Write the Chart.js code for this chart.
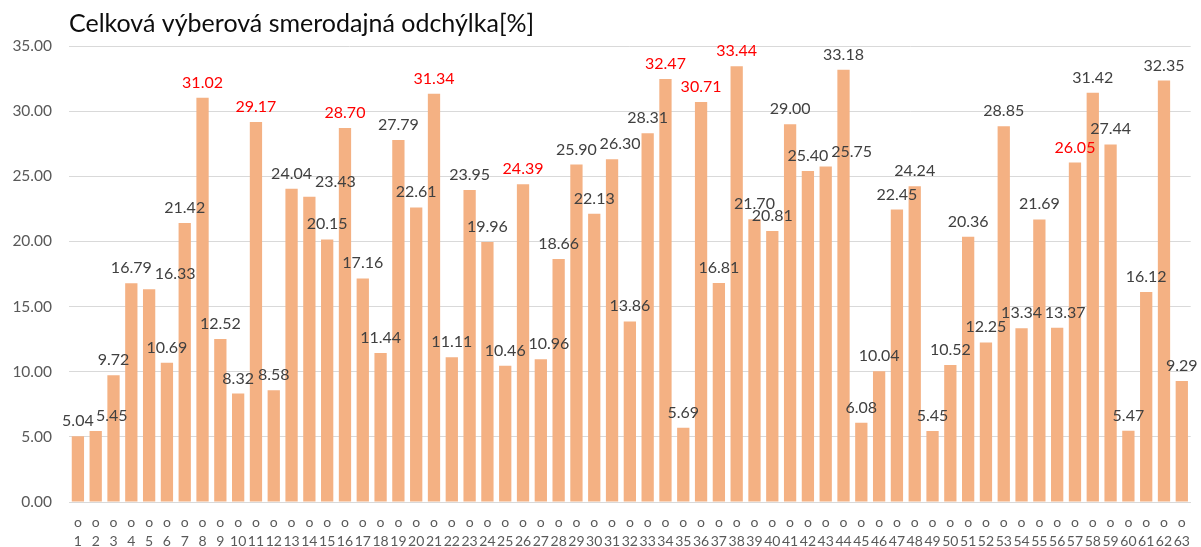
<!DOCTYPE html>
<html>
<head>
<meta charset="utf-8">
<title>Celková výberová smerodajná odchýlka</title>
<script src="https://cdn.jsdelivr.net/npm/chart.js@4.4.1/dist/chart.umd.min.js"></script>
<style>
  html, body { margin: 0; padding: 0; background: #fff; }
  #wrap { width: 1201px; height: 547px; }
</style>
</head>
<body>
<div id="wrap"><canvas id="chart"></canvas></div>
<script>
// meranie 1..63
const categories = ['1', '2', '3', '4', '5', '6', '7', '8', '9', '10', '11', '12', '13', '14', '15', '16',
  '17', '18', '19', '20', '21', '22', '23', '24', '25', '26', '27', '28', '29', '30', '31', '32',
  '33', '34', '35', '36', '37', '38', '39', '40', '41', '42', '43', '44', '45', '46', '47', '48',
  '49', '50', '51', '52', '53', '54', '55', '56', '57', '58', '59', '60', '61', '62', '63'];

// výberová smerodajná odchýlka [%]
const odchylka = [5.04, 5.45, 9.72, 16.79, 16.33, 10.69, 21.42, 31.02, 12.52, 8.32, 29.17, 8.58,
  24.04, 23.43, 20.15, 28.70, 17.16, 11.44, 27.79, 22.61, 31.34, 11.11, 23.95, 19.96, 10.46,
  24.39, 10.96, 18.66, 25.90, 22.13, 26.30, 13.86, 28.31, 32.47, 5.69, 30.71, 16.81, 33.44,
  21.70, 20.81, 29.00, 25.40, 25.75, 33.18, 6.08, 10.04, 22.45, 24.24, 5.45, 10.52, 20.36,
  12.25, 28.85, 13.34, 21.69, 13.37, 26.05, 31.42, 27.44, 5.47, 16.12, 32.35, 9.29];

// merania s hodnotou zvýraznenou červenou
const flagged = ['8', '11', '16', '21', '26', '34', '36', '38', '57'];

const yTicks = [0, 5, 10, 15, 20, 25, 30, 35];

const FONT = 'Lato, "Open Sans", sans-serif';

// kandidátne posuny popisku: najprv do strany, vyššie až keď to nejde
const offsets = [];
for (let dy = 0; dy >= -60; dy -= 3) {
  for (let dx = -36; dx <= 36; dx += 2) {
    offsets.push({ dx, dy, cost: Math.abs(dx) + 3 * Math.abs(dy) + (dx < 0 ? 1 : 0) });
  }
}
offsets.sort((a, b) => a.cost - b.cost);

// popisky hodnôt nad stĺpcami, bez vzájomného prekrytia
const barLabels = {
  id: 'barLabels',
  afterDatasetsDraw(chart) {
    const ctx = chart.ctx;
    const meta = chart.getDatasetMeta(0);
    ctx.save();
    ctx.font = '16px ' + FONT;
    ctx.textAlign = 'center';
    ctx.textBaseline = 'alphabetic';
    const placed = [];
    const h = 11;
    meta.data.forEach((bar, i) => {
      const text = odchylka[i].toFixed(2);
      const w = ctx.measureText(text).width;
      const baseY = bar.y - 10;
      let pos = null;
      for (const o of offsets) {
        const box = {
          l: bar.x + o.dx - w / 2 - 1, r: bar.x + o.dx + w / 2 + 1,
          t: baseY + o.dy - h, b: baseY + o.dy
        };
        const hit = placed.some(p => p.l < box.r && box.l < p.r && p.t < box.b && box.t < p.b);
        if (!hit) { pos = { dx: o.dx, dy: o.dy, box }; break; }
      }
      if (!pos) pos = { dx: 0, dy: 0, box: { l: 0, r: 0, t: 0, b: 0 } };
      placed.push(pos.box);
      const x = bar.x + pos.dx;
      if (pos.dy < -3) {
        ctx.strokeStyle = '#a6a6a6';
        ctx.lineWidth = 1;
        ctx.beginPath();
        ctx.moveTo(x, pos.box.b + 3);
        ctx.lineTo(bar.x, bar.y - 2);
        ctx.stroke();
      }
      ctx.fillStyle = flagged.includes(categories[i]) ? '#ff0000' : '#404040';
      ctx.fillText(text, x, baseY + pos.dy);
    });
    ctx.restore();
  }
};

new Chart(document.getElementById('chart'), {
  type: 'bar',
  data: {
    labels: categories.map(c => ['o', c]),
    datasets: [{
      data: odchylka,
      backgroundColor: '#f4b183',
      barPercentage: 0.69,
      categoryPercentage: 1.0
    }]
  },
  options: {
    responsive: true,
    maintainAspectRatio: false,
    animation: false,
    devicePixelRatio: 1,
    layout: { padding: { left: 0, right: 10, top: 0, bottom: 0 } },
    plugins: {
      legend: { display: false },
      tooltip: { enabled: false },
      title: {
        display: true,
        text: 'Celková výberová smerodajná odchýlka[%]',
        align: 'start',
        fullSize: false,
        color: '#0d0d0d',
        font: { family: FONT, size: 25, weight: 'normal' },
        padding: { top: 9, bottom: 7 }
      }
    },
    scales: {
      x: {
        grid: { display: false, drawTicks: false },
        border: { display: true, color: '#d9d9d9' },
        ticks: {
          color: '#595959',
          font: { family: FONT, size: 14, lineHeight: 1.35 },
          padding: 11,
          maxRotation: 0,
          autoSkip: false
        },
        afterFit(scale) { scale.height = 45; }
      },
      y: {
        min: 0,
        max: 35,
        grid: { color: '#d9d9d9', drawTicks: false },
        border: { display: false },
        ticks: {
          color: '#595959',
          font: { family: FONT, size: 15.5 },
          padding: 17,
          callback: v => v.toFixed(2)
        },
        afterBuildTicks(scale) { scale.ticks = yTicks.map(v => ({ value: v })); },
        afterFit(scale) { scale.width = 69; }
      }
    }
  },
  plugins: [barLabels]
});
</script>
</body>
</html>
